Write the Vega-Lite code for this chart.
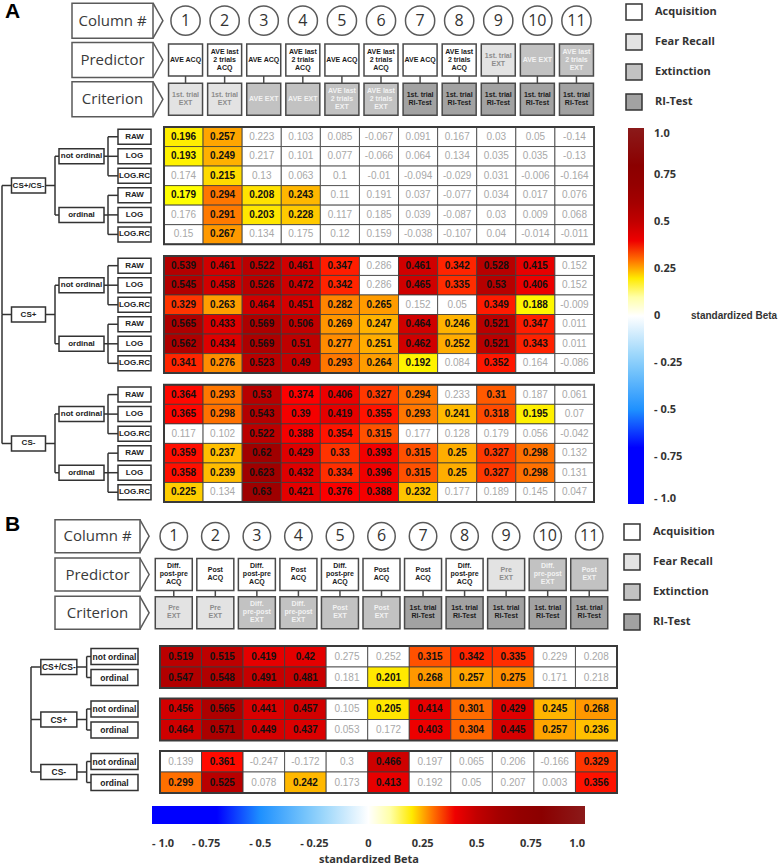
{
"$schema":"https://vega.github.io/schema/vega-lite/v6.json",
"padding":0,
"background":"white",
"config":{"view":{"stroke":null},"font":"Liberation Sans"},
"spacing":9,
"resolve":{"scale":{"color":"independent","fill":"independent"},"legend":{"color":"independent","fill":"independent"}},
"datasets":{
"heatA":[
{"grp":"CS+/CS-","ord":"not ordinal","tf":"RAW","col":1,"beta":0.196,"sig":1},
{"grp":"CS+/CS-","ord":"not ordinal","tf":"RAW","col":2,"beta":0.257,"sig":1},
{"grp":"CS+/CS-","ord":"not ordinal","tf":"RAW","col":3,"beta":0.223,"sig":0},
{"grp":"CS+/CS-","ord":"not ordinal","tf":"RAW","col":4,"beta":0.103,"sig":0},
{"grp":"CS+/CS-","ord":"not ordinal","tf":"RAW","col":5,"beta":0.085,"sig":0},
{"grp":"CS+/CS-","ord":"not ordinal","tf":"RAW","col":6,"beta":-0.067,"sig":0},
{"grp":"CS+/CS-","ord":"not ordinal","tf":"RAW","col":7,"beta":0.091,"sig":0},
{"grp":"CS+/CS-","ord":"not ordinal","tf":"RAW","col":8,"beta":0.167,"sig":0},
{"grp":"CS+/CS-","ord":"not ordinal","tf":"RAW","col":9,"beta":0.03,"sig":0},
{"grp":"CS+/CS-","ord":"not ordinal","tf":"RAW","col":10,"beta":0.05,"sig":0},
{"grp":"CS+/CS-","ord":"not ordinal","tf":"RAW","col":11,"beta":-0.14,"sig":0},
{"grp":"CS+/CS-","ord":"not ordinal","tf":"LOG","col":1,"beta":0.193,"sig":1},
{"grp":"CS+/CS-","ord":"not ordinal","tf":"LOG","col":2,"beta":0.249,"sig":1},
{"grp":"CS+/CS-","ord":"not ordinal","tf":"LOG","col":3,"beta":0.217,"sig":0},
{"grp":"CS+/CS-","ord":"not ordinal","tf":"LOG","col":4,"beta":0.101,"sig":0},
{"grp":"CS+/CS-","ord":"not ordinal","tf":"LOG","col":5,"beta":0.077,"sig":0},
{"grp":"CS+/CS-","ord":"not ordinal","tf":"LOG","col":6,"beta":-0.066,"sig":0},
{"grp":"CS+/CS-","ord":"not ordinal","tf":"LOG","col":7,"beta":0.064,"sig":0},
{"grp":"CS+/CS-","ord":"not ordinal","tf":"LOG","col":8,"beta":0.134,"sig":0},
{"grp":"CS+/CS-","ord":"not ordinal","tf":"LOG","col":9,"beta":0.035,"sig":0},
{"grp":"CS+/CS-","ord":"not ordinal","tf":"LOG","col":10,"beta":0.035,"sig":0},
{"grp":"CS+/CS-","ord":"not ordinal","tf":"LOG","col":11,"beta":-0.13,"sig":0},
{"grp":"CS+/CS-","ord":"not ordinal","tf":"LOG.RC","col":1,"beta":0.174,"sig":0},
{"grp":"CS+/CS-","ord":"not ordinal","tf":"LOG.RC","col":2,"beta":0.215,"sig":1},
{"grp":"CS+/CS-","ord":"not ordinal","tf":"LOG.RC","col":3,"beta":0.13,"sig":0},
{"grp":"CS+/CS-","ord":"not ordinal","tf":"LOG.RC","col":4,"beta":0.063,"sig":0},
{"grp":"CS+/CS-","ord":"not ordinal","tf":"LOG.RC","col":5,"beta":0.1,"sig":0},
{"grp":"CS+/CS-","ord":"not ordinal","tf":"LOG.RC","col":6,"beta":-0.01,"sig":0},
{"grp":"CS+/CS-","ord":"not ordinal","tf":"LOG.RC","col":7,"beta":-0.094,"sig":0},
{"grp":"CS+/CS-","ord":"not ordinal","tf":"LOG.RC","col":8,"beta":-0.029,"sig":0},
{"grp":"CS+/CS-","ord":"not ordinal","tf":"LOG.RC","col":9,"beta":0.031,"sig":0},
{"grp":"CS+/CS-","ord":"not ordinal","tf":"LOG.RC","col":10,"beta":-0.006,"sig":0},
{"grp":"CS+/CS-","ord":"not ordinal","tf":"LOG.RC","col":11,"beta":-0.164,"sig":0},
{"grp":"CS+/CS-","ord":"ordinal","tf":"RAW","col":1,"beta":0.179,"sig":1},
{"grp":"CS+/CS-","ord":"ordinal","tf":"RAW","col":2,"beta":0.294,"sig":1},
{"grp":"CS+/CS-","ord":"ordinal","tf":"RAW","col":3,"beta":0.208,"sig":1},
{"grp":"CS+/CS-","ord":"ordinal","tf":"RAW","col":4,"beta":0.243,"sig":1},
{"grp":"CS+/CS-","ord":"ordinal","tf":"RAW","col":5,"beta":0.11,"sig":0},
{"grp":"CS+/CS-","ord":"ordinal","tf":"RAW","col":6,"beta":0.191,"sig":0},
{"grp":"CS+/CS-","ord":"ordinal","tf":"RAW","col":7,"beta":0.037,"sig":0},
{"grp":"CS+/CS-","ord":"ordinal","tf":"RAW","col":8,"beta":-0.077,"sig":0},
{"grp":"CS+/CS-","ord":"ordinal","tf":"RAW","col":9,"beta":0.034,"sig":0},
{"grp":"CS+/CS-","ord":"ordinal","tf":"RAW","col":10,"beta":0.017,"sig":0},
{"grp":"CS+/CS-","ord":"ordinal","tf":"RAW","col":11,"beta":0.076,"sig":0},
{"grp":"CS+/CS-","ord":"ordinal","tf":"LOG","col":1,"beta":0.176,"sig":0},
{"grp":"CS+/CS-","ord":"ordinal","tf":"LOG","col":2,"beta":0.291,"sig":1},
{"grp":"CS+/CS-","ord":"ordinal","tf":"LOG","col":3,"beta":0.203,"sig":1},
{"grp":"CS+/CS-","ord":"ordinal","tf":"LOG","col":4,"beta":0.228,"sig":1},
{"grp":"CS+/CS-","ord":"ordinal","tf":"LOG","col":5,"beta":0.117,"sig":0},
{"grp":"CS+/CS-","ord":"ordinal","tf":"LOG","col":6,"beta":0.185,"sig":0},
{"grp":"CS+/CS-","ord":"ordinal","tf":"LOG","col":7,"beta":0.039,"sig":0},
{"grp":"CS+/CS-","ord":"ordinal","tf":"LOG","col":8,"beta":-0.087,"sig":0},
{"grp":"CS+/CS-","ord":"ordinal","tf":"LOG","col":9,"beta":0.03,"sig":0},
{"grp":"CS+/CS-","ord":"ordinal","tf":"LOG","col":10,"beta":0.009,"sig":0},
{"grp":"CS+/CS-","ord":"ordinal","tf":"LOG","col":11,"beta":0.068,"sig":0},
{"grp":"CS+/CS-","ord":"ordinal","tf":"LOG.RC","col":1,"beta":0.15,"sig":0},
{"grp":"CS+/CS-","ord":"ordinal","tf":"LOG.RC","col":2,"beta":0.267,"sig":1},
{"grp":"CS+/CS-","ord":"ordinal","tf":"LOG.RC","col":3,"beta":0.134,"sig":0},
{"grp":"CS+/CS-","ord":"ordinal","tf":"LOG.RC","col":4,"beta":0.175,"sig":0},
{"grp":"CS+/CS-","ord":"ordinal","tf":"LOG.RC","col":5,"beta":0.12,"sig":0},
{"grp":"CS+/CS-","ord":"ordinal","tf":"LOG.RC","col":6,"beta":0.159,"sig":0},
{"grp":"CS+/CS-","ord":"ordinal","tf":"LOG.RC","col":7,"beta":-0.038,"sig":0},
{"grp":"CS+/CS-","ord":"ordinal","tf":"LOG.RC","col":8,"beta":-0.107,"sig":0},
{"grp":"CS+/CS-","ord":"ordinal","tf":"LOG.RC","col":9,"beta":0.04,"sig":0},
{"grp":"CS+/CS-","ord":"ordinal","tf":"LOG.RC","col":10,"beta":-0.014,"sig":0},
{"grp":"CS+/CS-","ord":"ordinal","tf":"LOG.RC","col":11,"beta":-0.011,"sig":0},
{"grp":"CS+","ord":"not ordinal","tf":"RAW","col":1,"beta":0.539,"sig":1},
{"grp":"CS+","ord":"not ordinal","tf":"RAW","col":2,"beta":0.461,"sig":1},
{"grp":"CS+","ord":"not ordinal","tf":"RAW","col":3,"beta":0.522,"sig":1},
{"grp":"CS+","ord":"not ordinal","tf":"RAW","col":4,"beta":0.461,"sig":1},
{"grp":"CS+","ord":"not ordinal","tf":"RAW","col":5,"beta":0.347,"sig":1},
{"grp":"CS+","ord":"not ordinal","tf":"RAW","col":6,"beta":0.286,"sig":0},
{"grp":"CS+","ord":"not ordinal","tf":"RAW","col":7,"beta":0.461,"sig":1},
{"grp":"CS+","ord":"not ordinal","tf":"RAW","col":8,"beta":0.342,"sig":1},
{"grp":"CS+","ord":"not ordinal","tf":"RAW","col":9,"beta":0.528,"sig":1},
{"grp":"CS+","ord":"not ordinal","tf":"RAW","col":10,"beta":0.415,"sig":1},
{"grp":"CS+","ord":"not ordinal","tf":"RAW","col":11,"beta":0.152,"sig":0},
{"grp":"CS+","ord":"not ordinal","tf":"LOG","col":1,"beta":0.545,"sig":1},
{"grp":"CS+","ord":"not ordinal","tf":"LOG","col":2,"beta":0.458,"sig":1},
{"grp":"CS+","ord":"not ordinal","tf":"LOG","col":3,"beta":0.526,"sig":1},
{"grp":"CS+","ord":"not ordinal","tf":"LOG","col":4,"beta":0.472,"sig":1},
{"grp":"CS+","ord":"not ordinal","tf":"LOG","col":5,"beta":0.342,"sig":1},
{"grp":"CS+","ord":"not ordinal","tf":"LOG","col":6,"beta":0.286,"sig":0},
{"grp":"CS+","ord":"not ordinal","tf":"LOG","col":7,"beta":0.465,"sig":1},
{"grp":"CS+","ord":"not ordinal","tf":"LOG","col":8,"beta":0.335,"sig":1},
{"grp":"CS+","ord":"not ordinal","tf":"LOG","col":9,"beta":0.53,"sig":1},
{"grp":"CS+","ord":"not ordinal","tf":"LOG","col":10,"beta":0.406,"sig":1},
{"grp":"CS+","ord":"not ordinal","tf":"LOG","col":11,"beta":0.152,"sig":0},
{"grp":"CS+","ord":"not ordinal","tf":"LOG.RC","col":1,"beta":0.329,"sig":1},
{"grp":"CS+","ord":"not ordinal","tf":"LOG.RC","col":2,"beta":0.263,"sig":1},
{"grp":"CS+","ord":"not ordinal","tf":"LOG.RC","col":3,"beta":0.464,"sig":1},
{"grp":"CS+","ord":"not ordinal","tf":"LOG.RC","col":4,"beta":0.451,"sig":1},
{"grp":"CS+","ord":"not ordinal","tf":"LOG.RC","col":5,"beta":0.282,"sig":1},
{"grp":"CS+","ord":"not ordinal","tf":"LOG.RC","col":6,"beta":0.265,"sig":1},
{"grp":"CS+","ord":"not ordinal","tf":"LOG.RC","col":7,"beta":0.152,"sig":0},
{"grp":"CS+","ord":"not ordinal","tf":"LOG.RC","col":8,"beta":0.05,"sig":0},
{"grp":"CS+","ord":"not ordinal","tf":"LOG.RC","col":9,"beta":0.349,"sig":1},
{"grp":"CS+","ord":"not ordinal","tf":"LOG.RC","col":10,"beta":0.188,"sig":1},
{"grp":"CS+","ord":"not ordinal","tf":"LOG.RC","col":11,"beta":-0.009,"sig":0},
{"grp":"CS+","ord":"ordinal","tf":"RAW","col":1,"beta":0.565,"sig":1},
{"grp":"CS+","ord":"ordinal","tf":"RAW","col":2,"beta":0.433,"sig":1},
{"grp":"CS+","ord":"ordinal","tf":"RAW","col":3,"beta":0.569,"sig":1},
{"grp":"CS+","ord":"ordinal","tf":"RAW","col":4,"beta":0.506,"sig":1},
{"grp":"CS+","ord":"ordinal","tf":"RAW","col":5,"beta":0.269,"sig":1},
{"grp":"CS+","ord":"ordinal","tf":"RAW","col":6,"beta":0.247,"sig":1},
{"grp":"CS+","ord":"ordinal","tf":"RAW","col":7,"beta":0.464,"sig":1},
{"grp":"CS+","ord":"ordinal","tf":"RAW","col":8,"beta":0.246,"sig":1},
{"grp":"CS+","ord":"ordinal","tf":"RAW","col":9,"beta":0.521,"sig":1},
{"grp":"CS+","ord":"ordinal","tf":"RAW","col":10,"beta":0.347,"sig":1},
{"grp":"CS+","ord":"ordinal","tf":"RAW","col":11,"beta":0.011,"sig":0},
{"grp":"CS+","ord":"ordinal","tf":"LOG","col":1,"beta":0.562,"sig":1},
{"grp":"CS+","ord":"ordinal","tf":"LOG","col":2,"beta":0.434,"sig":1},
{"grp":"CS+","ord":"ordinal","tf":"LOG","col":3,"beta":0.569,"sig":1},
{"grp":"CS+","ord":"ordinal","tf":"LOG","col":4,"beta":0.51,"sig":1},
{"grp":"CS+","ord":"ordinal","tf":"LOG","col":5,"beta":0.277,"sig":1},
{"grp":"CS+","ord":"ordinal","tf":"LOG","col":6,"beta":0.251,"sig":1},
{"grp":"CS+","ord":"ordinal","tf":"LOG","col":7,"beta":0.462,"sig":1},
{"grp":"CS+","ord":"ordinal","tf":"LOG","col":8,"beta":0.252,"sig":1},
{"grp":"CS+","ord":"ordinal","tf":"LOG","col":9,"beta":0.521,"sig":1},
{"grp":"CS+","ord":"ordinal","tf":"LOG","col":10,"beta":0.343,"sig":1},
{"grp":"CS+","ord":"ordinal","tf":"LOG","col":11,"beta":0.011,"sig":0},
{"grp":"CS+","ord":"ordinal","tf":"LOG.RC","col":1,"beta":0.341,"sig":1},
{"grp":"CS+","ord":"ordinal","tf":"LOG.RC","col":2,"beta":0.276,"sig":1},
{"grp":"CS+","ord":"ordinal","tf":"LOG.RC","col":3,"beta":0.523,"sig":1},
{"grp":"CS+","ord":"ordinal","tf":"LOG.RC","col":4,"beta":0.49,"sig":1},
{"grp":"CS+","ord":"ordinal","tf":"LOG.RC","col":5,"beta":0.293,"sig":1},
{"grp":"CS+","ord":"ordinal","tf":"LOG.RC","col":6,"beta":0.264,"sig":1},
{"grp":"CS+","ord":"ordinal","tf":"LOG.RC","col":7,"beta":0.192,"sig":1},
{"grp":"CS+","ord":"ordinal","tf":"LOG.RC","col":8,"beta":0.084,"sig":0},
{"grp":"CS+","ord":"ordinal","tf":"LOG.RC","col":9,"beta":0.352,"sig":1},
{"grp":"CS+","ord":"ordinal","tf":"LOG.RC","col":10,"beta":0.164,"sig":0},
{"grp":"CS+","ord":"ordinal","tf":"LOG.RC","col":11,"beta":-0.086,"sig":0},
{"grp":"CS-","ord":"not ordinal","tf":"RAW","col":1,"beta":0.364,"sig":1},
{"grp":"CS-","ord":"not ordinal","tf":"RAW","col":2,"beta":0.293,"sig":1},
{"grp":"CS-","ord":"not ordinal","tf":"RAW","col":3,"beta":0.53,"sig":1},
{"grp":"CS-","ord":"not ordinal","tf":"RAW","col":4,"beta":0.374,"sig":1},
{"grp":"CS-","ord":"not ordinal","tf":"RAW","col":5,"beta":0.406,"sig":1},
{"grp":"CS-","ord":"not ordinal","tf":"RAW","col":6,"beta":0.327,"sig":1},
{"grp":"CS-","ord":"not ordinal","tf":"RAW","col":7,"beta":0.294,"sig":1},
{"grp":"CS-","ord":"not ordinal","tf":"RAW","col":8,"beta":0.233,"sig":0},
{"grp":"CS-","ord":"not ordinal","tf":"RAW","col":9,"beta":0.31,"sig":1},
{"grp":"CS-","ord":"not ordinal","tf":"RAW","col":10,"beta":0.187,"sig":0},
{"grp":"CS-","ord":"not ordinal","tf":"RAW","col":11,"beta":0.061,"sig":0},
{"grp":"CS-","ord":"not ordinal","tf":"LOG","col":1,"beta":0.365,"sig":1},
{"grp":"CS-","ord":"not ordinal","tf":"LOG","col":2,"beta":0.298,"sig":1},
{"grp":"CS-","ord":"not ordinal","tf":"LOG","col":3,"beta":0.543,"sig":1},
{"grp":"CS-","ord":"not ordinal","tf":"LOG","col":4,"beta":0.39,"sig":1},
{"grp":"CS-","ord":"not ordinal","tf":"LOG","col":5,"beta":0.419,"sig":1},
{"grp":"CS-","ord":"not ordinal","tf":"LOG","col":6,"beta":0.355,"sig":1},
{"grp":"CS-","ord":"not ordinal","tf":"LOG","col":7,"beta":0.293,"sig":1},
{"grp":"CS-","ord":"not ordinal","tf":"LOG","col":8,"beta":0.241,"sig":1},
{"grp":"CS-","ord":"not ordinal","tf":"LOG","col":9,"beta":0.318,"sig":1},
{"grp":"CS-","ord":"not ordinal","tf":"LOG","col":10,"beta":0.195,"sig":1},
{"grp":"CS-","ord":"not ordinal","tf":"LOG","col":11,"beta":0.07,"sig":0},
{"grp":"CS-","ord":"not ordinal","tf":"LOG.RC","col":1,"beta":0.117,"sig":0},
{"grp":"CS-","ord":"not ordinal","tf":"LOG.RC","col":2,"beta":0.102,"sig":0},
{"grp":"CS-","ord":"not ordinal","tf":"LOG.RC","col":3,"beta":0.522,"sig":1},
{"grp":"CS-","ord":"not ordinal","tf":"LOG.RC","col":4,"beta":0.388,"sig":1},
{"grp":"CS-","ord":"not ordinal","tf":"LOG.RC","col":5,"beta":0.354,"sig":1},
{"grp":"CS-","ord":"not ordinal","tf":"LOG.RC","col":6,"beta":0.315,"sig":1},
{"grp":"CS-","ord":"not ordinal","tf":"LOG.RC","col":7,"beta":0.177,"sig":0},
{"grp":"CS-","ord":"not ordinal","tf":"LOG.RC","col":8,"beta":0.128,"sig":0},
{"grp":"CS-","ord":"not ordinal","tf":"LOG.RC","col":9,"beta":0.179,"sig":0},
{"grp":"CS-","ord":"not ordinal","tf":"LOG.RC","col":10,"beta":0.056,"sig":0},
{"grp":"CS-","ord":"not ordinal","tf":"LOG.RC","col":11,"beta":-0.042,"sig":0},
{"grp":"CS-","ord":"ordinal","tf":"RAW","col":1,"beta":0.359,"sig":1},
{"grp":"CS-","ord":"ordinal","tf":"RAW","col":2,"beta":0.237,"sig":1},
{"grp":"CS-","ord":"ordinal","tf":"RAW","col":3,"beta":0.62,"sig":1},
{"grp":"CS-","ord":"ordinal","tf":"RAW","col":4,"beta":0.429,"sig":1},
{"grp":"CS-","ord":"ordinal","tf":"RAW","col":5,"beta":0.33,"sig":1},
{"grp":"CS-","ord":"ordinal","tf":"RAW","col":6,"beta":0.393,"sig":1},
{"grp":"CS-","ord":"ordinal","tf":"RAW","col":7,"beta":0.315,"sig":1},
{"grp":"CS-","ord":"ordinal","tf":"RAW","col":8,"beta":0.25,"sig":1},
{"grp":"CS-","ord":"ordinal","tf":"RAW","col":9,"beta":0.327,"sig":1},
{"grp":"CS-","ord":"ordinal","tf":"RAW","col":10,"beta":0.298,"sig":1},
{"grp":"CS-","ord":"ordinal","tf":"RAW","col":11,"beta":0.132,"sig":0},
{"grp":"CS-","ord":"ordinal","tf":"LOG","col":1,"beta":0.358,"sig":1},
{"grp":"CS-","ord":"ordinal","tf":"LOG","col":2,"beta":0.239,"sig":1},
{"grp":"CS-","ord":"ordinal","tf":"LOG","col":3,"beta":0.623,"sig":1},
{"grp":"CS-","ord":"ordinal","tf":"LOG","col":4,"beta":0.432,"sig":1},
{"grp":"CS-","ord":"ordinal","tf":"LOG","col":5,"beta":0.334,"sig":1},
{"grp":"CS-","ord":"ordinal","tf":"LOG","col":6,"beta":0.396,"sig":1},
{"grp":"CS-","ord":"ordinal","tf":"LOG","col":7,"beta":0.315,"sig":1},
{"grp":"CS-","ord":"ordinal","tf":"LOG","col":8,"beta":0.25,"sig":1},
{"grp":"CS-","ord":"ordinal","tf":"LOG","col":9,"beta":0.327,"sig":1},
{"grp":"CS-","ord":"ordinal","tf":"LOG","col":10,"beta":0.298,"sig":1},
{"grp":"CS-","ord":"ordinal","tf":"LOG","col":11,"beta":0.131,"sig":0},
{"grp":"CS-","ord":"ordinal","tf":"LOG.RC","col":1,"beta":0.225,"sig":1},
{"grp":"CS-","ord":"ordinal","tf":"LOG.RC","col":2,"beta":0.134,"sig":0},
{"grp":"CS-","ord":"ordinal","tf":"LOG.RC","col":3,"beta":0.63,"sig":1},
{"grp":"CS-","ord":"ordinal","tf":"LOG.RC","col":4,"beta":0.421,"sig":1},
{"grp":"CS-","ord":"ordinal","tf":"LOG.RC","col":5,"beta":0.376,"sig":1},
{"grp":"CS-","ord":"ordinal","tf":"LOG.RC","col":6,"beta":0.388,"sig":1},
{"grp":"CS-","ord":"ordinal","tf":"LOG.RC","col":7,"beta":0.232,"sig":1},
{"grp":"CS-","ord":"ordinal","tf":"LOG.RC","col":8,"beta":0.177,"sig":0},
{"grp":"CS-","ord":"ordinal","tf":"LOG.RC","col":9,"beta":0.189,"sig":0},
{"grp":"CS-","ord":"ordinal","tf":"LOG.RC","col":10,"beta":0.145,"sig":0},
{"grp":"CS-","ord":"ordinal","tf":"LOG.RC","col":11,"beta":0.047,"sig":0}
],
"heatB":[
{"grp":"CS+/CS-","ord":"not ordinal","col":1,"beta":0.519,"sig":1},
{"grp":"CS+/CS-","ord":"not ordinal","col":2,"beta":0.515,"sig":1},
{"grp":"CS+/CS-","ord":"not ordinal","col":3,"beta":0.419,"sig":1},
{"grp":"CS+/CS-","ord":"not ordinal","col":4,"beta":0.42,"sig":1},
{"grp":"CS+/CS-","ord":"not ordinal","col":5,"beta":0.275,"sig":0},
{"grp":"CS+/CS-","ord":"not ordinal","col":6,"beta":0.252,"sig":0},
{"grp":"CS+/CS-","ord":"not ordinal","col":7,"beta":0.315,"sig":1},
{"grp":"CS+/CS-","ord":"not ordinal","col":8,"beta":0.342,"sig":1},
{"grp":"CS+/CS-","ord":"not ordinal","col":9,"beta":0.335,"sig":1},
{"grp":"CS+/CS-","ord":"not ordinal","col":10,"beta":0.229,"sig":0},
{"grp":"CS+/CS-","ord":"not ordinal","col":11,"beta":0.208,"sig":0},
{"grp":"CS+/CS-","ord":"ordinal","col":1,"beta":0.547,"sig":1},
{"grp":"CS+/CS-","ord":"ordinal","col":2,"beta":0.548,"sig":1},
{"grp":"CS+/CS-","ord":"ordinal","col":3,"beta":0.491,"sig":1},
{"grp":"CS+/CS-","ord":"ordinal","col":4,"beta":0.481,"sig":1},
{"grp":"CS+/CS-","ord":"ordinal","col":5,"beta":0.181,"sig":0},
{"grp":"CS+/CS-","ord":"ordinal","col":6,"beta":0.201,"sig":1},
{"grp":"CS+/CS-","ord":"ordinal","col":7,"beta":0.268,"sig":1},
{"grp":"CS+/CS-","ord":"ordinal","col":8,"beta":0.257,"sig":1},
{"grp":"CS+/CS-","ord":"ordinal","col":9,"beta":0.275,"sig":1},
{"grp":"CS+/CS-","ord":"ordinal","col":10,"beta":0.171,"sig":0},
{"grp":"CS+/CS-","ord":"ordinal","col":11,"beta":0.218,"sig":0},
{"grp":"CS+","ord":"not ordinal","col":1,"beta":0.456,"sig":1},
{"grp":"CS+","ord":"not ordinal","col":2,"beta":0.565,"sig":1},
{"grp":"CS+","ord":"not ordinal","col":3,"beta":0.441,"sig":1},
{"grp":"CS+","ord":"not ordinal","col":4,"beta":0.457,"sig":1},
{"grp":"CS+","ord":"not ordinal","col":5,"beta":0.105,"sig":0},
{"grp":"CS+","ord":"not ordinal","col":6,"beta":0.205,"sig":1},
{"grp":"CS+","ord":"not ordinal","col":7,"beta":0.414,"sig":1},
{"grp":"CS+","ord":"not ordinal","col":8,"beta":0.301,"sig":1},
{"grp":"CS+","ord":"not ordinal","col":9,"beta":0.429,"sig":1},
{"grp":"CS+","ord":"not ordinal","col":10,"beta":0.245,"sig":1},
{"grp":"CS+","ord":"not ordinal","col":11,"beta":0.268,"sig":1},
{"grp":"CS+","ord":"ordinal","col":1,"beta":0.464,"sig":1},
{"grp":"CS+","ord":"ordinal","col":2,"beta":0.571,"sig":1},
{"grp":"CS+","ord":"ordinal","col":3,"beta":0.449,"sig":1},
{"grp":"CS+","ord":"ordinal","col":4,"beta":0.437,"sig":1},
{"grp":"CS+","ord":"ordinal","col":5,"beta":0.053,"sig":0},
{"grp":"CS+","ord":"ordinal","col":6,"beta":0.172,"sig":0},
{"grp":"CS+","ord":"ordinal","col":7,"beta":0.403,"sig":1},
{"grp":"CS+","ord":"ordinal","col":8,"beta":0.304,"sig":1},
{"grp":"CS+","ord":"ordinal","col":9,"beta":0.445,"sig":1},
{"grp":"CS+","ord":"ordinal","col":10,"beta":0.257,"sig":1},
{"grp":"CS+","ord":"ordinal","col":11,"beta":0.236,"sig":1},
{"grp":"CS-","ord":"not ordinal","col":1,"beta":0.139,"sig":0},
{"grp":"CS-","ord":"not ordinal","col":2,"beta":0.361,"sig":1},
{"grp":"CS-","ord":"not ordinal","col":3,"beta":-0.247,"sig":0},
{"grp":"CS-","ord":"not ordinal","col":4,"beta":-0.172,"sig":0},
{"grp":"CS-","ord":"not ordinal","col":5,"beta":0.3,"sig":0},
{"grp":"CS-","ord":"not ordinal","col":6,"beta":0.466,"sig":1},
{"grp":"CS-","ord":"not ordinal","col":7,"beta":0.197,"sig":0},
{"grp":"CS-","ord":"not ordinal","col":8,"beta":0.065,"sig":0},
{"grp":"CS-","ord":"not ordinal","col":9,"beta":0.206,"sig":0},
{"grp":"CS-","ord":"not ordinal","col":10,"beta":-0.166,"sig":0},
{"grp":"CS-","ord":"not ordinal","col":11,"beta":0.329,"sig":1},
{"grp":"CS-","ord":"ordinal","col":1,"beta":0.299,"sig":1},
{"grp":"CS-","ord":"ordinal","col":2,"beta":0.525,"sig":1},
{"grp":"CS-","ord":"ordinal","col":3,"beta":0.078,"sig":0},
{"grp":"CS-","ord":"ordinal","col":4,"beta":0.242,"sig":1},
{"grp":"CS-","ord":"ordinal","col":5,"beta":0.173,"sig":0},
{"grp":"CS-","ord":"ordinal","col":6,"beta":0.413,"sig":1},
{"grp":"CS-","ord":"ordinal","col":7,"beta":0.192,"sig":0},
{"grp":"CS-","ord":"ordinal","col":8,"beta":0.05,"sig":0},
{"grp":"CS-","ord":"ordinal","col":9,"beta":0.207,"sig":0},
{"grp":"CS-","ord":"ordinal","col":10,"beta":0.003,"sig":0},
{"grp":"CS-","ord":"ordinal","col":11,"beta":0.356,"sig":1}
],
"headA":[
{"col":1,"row":"Predictor","label":"AVE ACQ","phase":"Acquisition"},
{"col":2,"row":"Predictor","label":"AVE last\n2 trials\nACQ","phase":"Acquisition"},
{"col":3,"row":"Predictor","label":"AVE ACQ","phase":"Acquisition"},
{"col":4,"row":"Predictor","label":"AVE last\n2 trials\nACQ","phase":"Acquisition"},
{"col":5,"row":"Predictor","label":"AVE ACQ","phase":"Acquisition"},
{"col":6,"row":"Predictor","label":"AVE last\n2 trials\nACQ","phase":"Acquisition"},
{"col":7,"row":"Predictor","label":"AVE ACQ","phase":"Acquisition"},
{"col":8,"row":"Predictor","label":"AVE last\n2 trials\nACQ","phase":"Acquisition"},
{"col":9,"row":"Predictor","label":"1st. trial\nEXT","phase":"Fear Recall"},
{"col":10,"row":"Predictor","label":"AVE EXT","phase":"Extinction"},
{"col":11,"row":"Predictor","label":"AVE last\n2 trials\nEXT","phase":"Extinction"},
{"col":1,"row":"Criterion","label":"1st. trial\nEXT","phase":"Fear Recall"},
{"col":2,"row":"Criterion","label":"1st. trial\nEXT","phase":"Fear Recall"},
{"col":3,"row":"Criterion","label":"AVE EXT","phase":"Extinction"},
{"col":4,"row":"Criterion","label":"AVE EXT","phase":"Extinction"},
{"col":5,"row":"Criterion","label":"AVE last\n2 trials\nEXT","phase":"Extinction"},
{"col":6,"row":"Criterion","label":"AVE last\n2 trials\nEXT","phase":"Extinction"},
{"col":7,"row":"Criterion","label":"1st. trial\nRI-Test","phase":"RI-Test"},
{"col":8,"row":"Criterion","label":"1st. trial\nRI-Test","phase":"RI-Test"},
{"col":9,"row":"Criterion","label":"1st. trial\nRI-Test","phase":"RI-Test"},
{"col":10,"row":"Criterion","label":"1st. trial\nRI-Test","phase":"RI-Test"},
{"col":11,"row":"Criterion","label":"1st. trial\nRI-Test","phase":"RI-Test"}
],
"headB":[
{"col":1,"row":"Predictor","label":"Diff.\npost-pre\nACQ","phase":"Acquisition"},
{"col":2,"row":"Predictor","label":"Post\nACQ","phase":"Acquisition"},
{"col":3,"row":"Predictor","label":"Diff.\npost-pre\nACQ","phase":"Acquisition"},
{"col":4,"row":"Predictor","label":"Post\nACQ","phase":"Acquisition"},
{"col":5,"row":"Predictor","label":"Diff.\npost-pre\nACQ","phase":"Acquisition"},
{"col":6,"row":"Predictor","label":"Post\nACQ","phase":"Acquisition"},
{"col":7,"row":"Predictor","label":"Post\nACQ","phase":"Acquisition"},
{"col":8,"row":"Predictor","label":"Diff.\npost-pre\nACQ","phase":"Acquisition"},
{"col":9,"row":"Predictor","label":"Pre\nEXT","phase":"Fear Recall"},
{"col":10,"row":"Predictor","label":"Diff.\npre-post\nEXT","phase":"Extinction"},
{"col":11,"row":"Predictor","label":"Post\nEXT","phase":"Extinction"},
{"col":1,"row":"Criterion","label":"Pre\nEXT","phase":"Fear Recall"},
{"col":2,"row":"Criterion","label":"Pre\nEXT","phase":"Fear Recall"},
{"col":3,"row":"Criterion","label":"Diff.\npre-post\nEXT","phase":"Extinction"},
{"col":4,"row":"Criterion","label":"Diff.\npre-post\nEXT","phase":"Extinction"},
{"col":5,"row":"Criterion","label":"Post\nEXT","phase":"Extinction"},
{"col":6,"row":"Criterion","label":"Post\nEXT","phase":"Extinction"},
{"col":7,"row":"Criterion","label":"1st. trial\nRI-Test","phase":"RI-Test"},
{"col":8,"row":"Criterion","label":"1st. trial\nRI-Test","phase":"RI-Test"},
{"col":9,"row":"Criterion","label":"1st. trial\nRI-Test","phase":"RI-Test"},
{"col":10,"row":"Criterion","label":"1st. trial\nRI-Test","phase":"RI-Test"},
{"col":11,"row":"Criterion","label":"1st. trial\nRI-Test","phase":"RI-Test"}
],
"treeA":[
{"level":"grp","grp":"CS+/CS-"},{"level":"grp","grp":"CS+"},{"level":"grp","grp":"CS-"},
{"level":"sub","grp":"CS+/CS-","ord":"not ordinal"},{"level":"sub","grp":"CS+/CS-","ord":"ordinal"},
{"level":"sub","grp":"CS+","ord":"not ordinal"},{"level":"sub","grp":"CS+","ord":"ordinal"},
{"level":"sub","grp":"CS-","ord":"not ordinal"},{"level":"sub","grp":"CS-","ord":"ordinal"},
{"level":"leaf","grp":"CS+/CS-","ord":"not ordinal","tf":"RAW"},{"level":"leaf","grp":"CS+/CS-","ord":"not ordinal","tf":"LOG"},{"level":"leaf","grp":"CS+/CS-","ord":"not ordinal","tf":"LOG.RC"},
{"level":"leaf","grp":"CS+/CS-","ord":"ordinal","tf":"RAW"},{"level":"leaf","grp":"CS+/CS-","ord":"ordinal","tf":"LOG"},{"level":"leaf","grp":"CS+/CS-","ord":"ordinal","tf":"LOG.RC"},
{"level":"leaf","grp":"CS+","ord":"not ordinal","tf":"RAW"},{"level":"leaf","grp":"CS+","ord":"not ordinal","tf":"LOG"},{"level":"leaf","grp":"CS+","ord":"not ordinal","tf":"LOG.RC"},
{"level":"leaf","grp":"CS+","ord":"ordinal","tf":"RAW"},{"level":"leaf","grp":"CS+","ord":"ordinal","tf":"LOG"},{"level":"leaf","grp":"CS+","ord":"ordinal","tf":"LOG.RC"},
{"level":"leaf","grp":"CS-","ord":"not ordinal","tf":"RAW"},{"level":"leaf","grp":"CS-","ord":"not ordinal","tf":"LOG"},{"level":"leaf","grp":"CS-","ord":"not ordinal","tf":"LOG.RC"},
{"level":"leaf","grp":"CS-","ord":"ordinal","tf":"RAW"},{"level":"leaf","grp":"CS-","ord":"ordinal","tf":"LOG"},{"level":"leaf","grp":"CS-","ord":"ordinal","tf":"LOG.RC"}
],
"treeB":[
{"level":"grp","grp":"CS+/CS-"},{"level":"grp","grp":"CS+"},{"level":"grp","grp":"CS-"},
{"level":"sub","grp":"CS+/CS-","ord":"not ordinal"},{"level":"sub","grp":"CS+/CS-","ord":"ordinal"},
{"level":"sub","grp":"CS+","ord":"not ordinal"},{"level":"sub","grp":"CS+","ord":"ordinal"},
{"level":"sub","grp":"CS-","ord":"not ordinal"},{"level":"sub","grp":"CS-","ord":"ordinal"}
],
"rowsHead":[{"row":"Column #"},{"row":"Predictor"},{"row":"Criterion"}]
},
"vconcat":[
{
"spacing":6,
"resolve":{"scale":{"color":"independent","fill":"independent"},"legend":{"color":"independent","fill":"independent"}},
"vconcat":[
{"hconcat":[
{"width":163,"height":118,"data":{"name":"rowsHead"},
"resolve":{"scale":{"x":"independent"}},
"layer":[
{"data":{"values":[{"panel":"A"}]},
"mark":{"type":"text","fontSize":21,"fontWeight":"bold","font":"Liberation Sans","color":"#000000","align":"left","baseline":"middle"},
"encoding":{"x":{"datum":"A","type":"nominal","scale":{"type":"point","domain":["A"],"range":[5,5],"padding":0},"axis":null},
"y":{"datum":"Column #","type":"nominal","bandPosition":0.29,"scale":{"type":"band","domain":["Column #","Predictor","Criterion"],"paddingInner":0,"paddingOuter":0},"axis":null},
"text":{"field":"panel"}}},
{"mark":{"type":"point","shape":"M-0.28,-1L0.28,0L-0.28,1","size":1225,"filled":true,"fill":"white","stroke":"#5a5a5a","strokeWidth":1.5,"opacity":1},
"encoding":{"x":{"datum":"tip","type":"nominal","scale":{"type":"point","domain":["box","tip"],"range":[112.5,158],"padding":0},"axis":null},
"y":{"field":"row","type":"nominal","scale":{"type":"band","domain":["Column #","Predictor","Criterion"],"paddingInner":0,"paddingOuter":0},"axis":null}}},
{"mark":{"type":"rect","width":81,"height":35,"fill":"white","stroke":"#5a5a5a","strokeWidth":1.5},
"encoding":{"x":{"datum":"box","type":"nominal","scale":{"type":"point","domain":["box","tip"],"range":[112.5,158],"padding":0},"axis":null},
"y":{"field":"row","type":"nominal","scale":{"type":"band","domain":["Column #","Predictor","Criterion"],"paddingInner":0,"paddingOuter":0},"axis":null}}},
{"mark":{"type":"text","fontSize":15,"font":"Open Sans","color":"#3a3a3a"},
"encoding":{"x":{"datum":"box","type":"nominal","scale":{"type":"point","domain":["box","tip"],"range":[112.5,158],"padding":0},"axis":null},
"y":{"field":"row","type":"nominal","scale":{"type":"band","domain":["Column #","Predictor","Criterion"],"paddingInner":0,"paddingOuter":0},"axis":null},
"text":{"field":"row"}}}
]},
{"width":430,"height":118,"data":{"name":"headA"},
"layer":[
{"transform":[{"filter":"datum.row=='Predictor'"}],
"mark":{"type":"rule","stroke":"#4a4a4a","strokeWidth":1.5},
"encoding":{"x":{"field":"col","type":"ordinal","scale":{"type":"band","domain":[1,2,3,4,5,6,7,8,9,10,11],"paddingInner":0,"paddingOuter":0},"axis":null},
"y":{"datum":"Predictor","type":"nominal","scale":{"type":"band","domain":["Column #","Predictor","Criterion"],"paddingInner":0,"paddingOuter":0},"axis":null},
"y2":{"datum":"Criterion"}}},
{"transform":[{"filter":"datum.row=='Predictor'"}],
"mark":{"type":"point","shape":"circle","size":855,"filled":true,"fill":"white","stroke":"#5a5a5a","strokeWidth":1.5,"opacity":1},
"encoding":{"x":{"field":"col","type":"ordinal","scale":{"type":"band","domain":[1,2,3,4,5,6,7,8,9,10,11],"paddingInner":0,"paddingOuter":0},"axis":null},
"y":{"datum":"Column #","type":"nominal","scale":{"type":"band","domain":["Column #","Predictor","Criterion"],"paddingInner":0,"paddingOuter":0},"axis":null}}},
{"transform":[{"filter":"datum.row=='Predictor'"}],
"mark":{"type":"text","fontSize":16,"font":"Open Sans","color":"#333333"},
"encoding":{"x":{"field":"col","type":"ordinal","scale":{"type":"band","domain":[1,2,3,4,5,6,7,8,9,10,11],"paddingInner":0,"paddingOuter":0},"axis":null},
"y":{"datum":"Column #","type":"nominal","scale":{"type":"band","domain":["Column #","Predictor","Criterion"],"paddingInner":0,"paddingOuter":0},"axis":null},
"text":{"field":"col"}}},
{"mark":{"type":"rect","width":34,"height":32,"stroke":"#4a4a4a","strokeWidth":1.5},
"encoding":{"x":{"field":"col","type":"ordinal","scale":{"type":"band","domain":[1,2,3,4,5,6,7,8,9,10,11],"paddingInner":0,"paddingOuter":0},"axis":null},
"y":{"field":"row","type":"nominal","scale":{"type":"band","domain":["Column #","Predictor","Criterion"],"paddingInner":0,"paddingOuter":0},"axis":null},
"fill":{"field":"phase","type":"nominal","scale":{"domain":["Acquisition","Fear Recall","Extinction","RI-Test"],"range":["#ffffff","#e3e3e3","#c2c2c2","#a2a2a2"]},
"legend":{"orient":"none","legendX":459,"legendY":2,"title":null,"direction":"vertical","symbolType":"square","symbolSize":256,"symbolStrokeColor":"#333333","symbolStrokeWidth":1.5,"symbolOpacity":1,"rowPadding":8,"labelOffset":12,"labelFont":"Open Sans","labelFontSize":11,"labelFontWeight":"bold","labelColor":"#333333"}}}},
{"transform":[{"filter":"length(split(datum.label,'\\n'))==3"}],
"mark":{"type":"text","fontSize":7,"fontWeight":"bold","font":"Liberation Sans Narrow, Liberation Sans","lineBreak":"\n","lineHeight":8,"dy":-8.5},
"encoding":{"x":{"field":"col","type":"ordinal","scale":{"type":"band","domain":[1,2,3,4,5,6,7,8,9,10,11],"paddingInner":0,"paddingOuter":0},"axis":null},
"y":{"field":"row","type":"nominal","scale":{"type":"band","domain":["Column #","Predictor","Criterion"],"paddingInner":0,"paddingOuter":0},"axis":null},
"text":{"field":"label"},
"color":{"field":"phase","type":"nominal","scale":{"domain":["Acquisition","Fear Recall","Extinction","RI-Test"],"range":["#1c1c1c","#8c8c8c","#f2f2f2","#1c1c1c"]},"legend":null}}},
{"transform":[{"filter":"length(split(datum.label,'\\n'))==2"}],
"mark":{"type":"text","fontSize":7,"fontWeight":"bold","font":"Liberation Sans Narrow, Liberation Sans","lineBreak":"\n","lineHeight":8,"dy":-4.5},
"encoding":{"x":{"field":"col","type":"ordinal","scale":{"type":"band","domain":[1,2,3,4,5,6,7,8,9,10,11],"paddingInner":0,"paddingOuter":0},"axis":null},
"y":{"field":"row","type":"nominal","scale":{"type":"band","domain":["Column #","Predictor","Criterion"],"paddingInner":0,"paddingOuter":0},"axis":null},
"text":{"field":"label"},
"color":{"field":"phase","type":"nominal","scale":{"domain":["Acquisition","Fear Recall","Extinction","RI-Test"],"range":["#1c1c1c","#8c8c8c","#f2f2f2","#1c1c1c"]},"legend":null}}},
{"transform":[{"filter":"length(split(datum.label,'\\n'))==1"}],
"mark":{"type":"text","fontSize":7,"fontWeight":"bold","font":"Liberation Sans Narrow, Liberation Sans","dy":-0.5},
"encoding":{"x":{"field":"col","type":"ordinal","scale":{"type":"band","domain":[1,2,3,4,5,6,7,8,9,10,11],"paddingInner":0,"paddingOuter":0},"axis":null},
"y":{"field":"row","type":"nominal","scale":{"type":"band","domain":["Column #","Predictor","Criterion"],"paddingInner":0,"paddingOuter":0},"axis":null},
"text":{"field":"label"},
"color":{"field":"phase","type":"nominal","scale":{"domain":["Acquisition","Fear Recall","Extinction","RI-Test"],"range":["#1c1c1c","#8c8c8c","#f2f2f2","#1c1c1c"]},"legend":null}}}
]}
],"spacing":0,"resolve":{"scale":{"color":"independent","fill":"independent"},"legend":{"color":"independent","fill":"independent"}}},
{"hconcat":[
{"width":163,"height":375,"data":{"name":"treeA"},
"transform":[
{"calculate":"indexof(['CS+/CS-','CS+','CS-'], datum.grp)*6.6","as":"gy"},
{"calculate":"datum.ord=='ordinal' ? 3 : 0","as":"oy"},
{"calculate":"datum.level=='grp' ? datum.gy+3 : (datum.level=='sub' ? datum.gy+datum.oy+1.5 : datum.gy+datum.oy+indexof(['RAW','LOG','LOG.RC'], datum.tf)+0.5)","as":"yc"},
{"calculate":"datum.level=='leaf' ? 'j2' : (datum.level=='sub' ? 'j1' : 'root')","as":"hx1"},
{"calculate":"datum.level=='leaf' ? 'leaf' : (datum.level=='sub' ? 'j2' : 'j1')","as":"hx2"},
{"calculate":"datum.level=='sub' ? 'j2' : 'j1'","as":"vx"},
{"calculate":"datum.level=='sub' ? datum.yc-1 : datum.yc-1.5","as":"vy1"},
{"calculate":"datum.level=='sub' ? datum.yc+1 : datum.yc+1.5","as":"vy2"},
{"calculate":"datum.level=='grp' ? datum.grp : (datum.level=='sub' ? datum.ord : datum.tf)","as":"label"}
],
"layer":[
{"mark":{"type":"rule","stroke":"#333333","strokeWidth":1.5},
"encoding":{"x":{"field":"hx1","type":"nominal","scale":{"type":"point","domain":["root","grp","j1","sub","j2","leaf"],"range":[2,134.5],"padding":0},"axis":null},"x2":{"field":"hx2"},
"y":{"field":"yc","type":"quantitative","scale":{"domain":[0,19.2],"reverse":true,"nice":false,"zero":false},"axis":null}}},
{"transform":[{"filter":"datum.level!='leaf'"}],"mark":{"type":"rule","stroke":"#333333","strokeWidth":1.5},
"encoding":{"x":{"field":"vx","type":"nominal","scale":{"type":"point","domain":["root","grp","j1","sub","j2","leaf"],"range":[2,134.5],"padding":0},"axis":null},
"y":{"field":"vy1","type":"quantitative","scale":{"domain":[0,19.2],"reverse":true,"nice":false,"zero":false},"axis":null},"y2":{"field":"vy2"}}},
{"transform":[{"filter":"datum.level=='grp'"}],"mark":{"type":"rule","stroke":"#333333","strokeWidth":1.5},
"encoding":{"x":{"datum":"root","type":"nominal","scale":{"type":"point","domain":["root","grp","j1","sub","j2","leaf"],"range":[2,134.5],"padding":0},"axis":null},
"y":{"field":"yc","type":"quantitative","scale":{"domain":[0,19.2],"reverse":true,"nice":false,"zero":false},"axis":null},"y2":{"datum":9.6}}},
{"transform":[{"filter":"datum.level=='grp'"}],"mark":{"type":"rect","width":34,"height":15,"fill":"white","stroke":"#333333","strokeWidth":1.5},
"encoding":{"x":{"field":"level","type":"nominal","scale":{"type":"point","domain":["root","grp","j1","sub","j2","leaf"],"range":[2,134.5],"padding":0},"axis":null},
"y":{"field":"yc","type":"quantitative","scale":{"domain":[0,19.2],"reverse":true,"nice":false,"zero":false},"axis":null}}},
{"transform":[{"filter":"datum.level=='sub'"}],"mark":{"type":"rect","width":45,"height":15,"fill":"white","stroke":"#333333","strokeWidth":1.5},
"encoding":{"x":{"field":"level","type":"nominal","scale":{"type":"point","domain":["root","grp","j1","sub","j2","leaf"],"range":[2,134.5],"padding":0},"axis":null},
"y":{"field":"yc","type":"quantitative","scale":{"domain":[0,19.2],"reverse":true,"nice":false,"zero":false},"axis":null}}},
{"transform":[{"filter":"datum.level=='leaf'"}],"mark":{"type":"rect","width":33,"height":15,"fill":"white","stroke":"#333333","strokeWidth":1.5},
"encoding":{"x":{"field":"level","type":"nominal","scale":{"type":"point","domain":["root","grp","j1","sub","j2","leaf"],"range":[2,134.5],"padding":0},"axis":null},
"y":{"field":"yc","type":"quantitative","scale":{"domain":[0,19.2],"reverse":true,"nice":false,"zero":false},"axis":null}}},
{"mark":{"type":"text","fontSize":8,"fontWeight":"bold","font":"Liberation Sans Narrow, Liberation Sans","color":"#222222"},
"encoding":{"x":{"field":"level","type":"nominal","scale":{"type":"point","domain":["root","grp","j1","sub","j2","leaf"],"range":[2,134.5],"padding":0},"axis":null},
"y":{"field":"yc","type":"quantitative","scale":{"domain":[0,19.2],"reverse":true,"nice":false,"zero":false},"axis":null},"text":{"field":"label"}}}
]},
{"width":430,"height":375,"data":{"name":"heatA"},
"transform":[
{"calculate":"indexof(['CS+/CS-','CS+','CS-'], datum.grp)*6.6 + (datum.ord=='ordinal' ? 3 : 0) + indexof(['RAW','LOG','LOG.RC'], datum.tf)","as":"y0"},
{"calculate":"datum.y0+1","as":"y1"},
{"calculate":"datum.y0+0.5","as":"yc"},
{"calculate":"''+datum.beta","as":"lbl"}
],
"layer":[
{"mark":{"type":"rect","stroke":"#3c3c3c","strokeWidth":0.8},
"encoding":{"x":{"field":"col","type":"ordinal","scale":{"type":"band","domain":[1,2,3,4,5,6,7,8,9,10,11],"paddingInner":0,"paddingOuter":0},"axis":null},
"y":{"field":"y0","type":"quantitative","scale":{"domain":[0,19.2],"reverse":true,"nice":false,"zero":false},"axis":null},"y2":{"field":"y1"},
"color":{"condition":{"test":"datum.sig==0","value":"#ffffff"},"field":"beta","type":"quantitative",
"scale":{"type":"linear","domain":[-1,-0.7,-0.5,-0.25,0,0.1,0.18,0.21,0.24,0.27,0.3,0.33,0.37,0.45,0.55,0.65,0.8,1],"range":["#0000ff","#0000ff","#1e90ff","#87cefa","#ffffff","#ffffa8","#ffff00","#ffe000","#ffbb00","#ff9500","#ff6e00","#ff3300","#ff0000","#d40000","#b00000","#990000","#8b0000","#8b1a1a"],"interpolate":"rgb"},
"legend":{"orient":"none","legendX":464,"legendY":1,"direction":"vertical","gradientLength":376,"gradientThickness":16,"gradientStrokeWidth":0,"values":[-1,-0.75,-0.5,-0.25,0,0.25,0.5,0.75,1],"labelExpr":"datum.value == 0 ? '0' : (datum.value < 0 ? '- ' : '') + (abs(datum.value) == 1 ? '1.0' : '' + abs(datum.value))","labelFont":"Open Sans","labelFontSize":11,"labelFontWeight":"bold","labelColor":"#333333","labelOffset":10,"labelBaseline":"middle","labelOverlap":false,"title":"standardized Beta","titleOrient":"right","titleAnchor":"middle","titleBaseline":"middle","titleFont":"Liberation Sans","titleFontSize":10,"titleFontWeight":"bold","titleColor":"#333333","titlePadding":9,"encode":{"title":{"update":{"angle":{"value":0},"align":{"value":"left"}}}}}}}},
{"transform":[{"filter":"datum.sig==1"}],"mark":{"type":"text","font":"Liberation Sans","fontSize":10,"fontWeight":"bold","fill":"#111111"},
"encoding":{"x":{"field":"col","type":"ordinal","scale":{"type":"band","domain":[1,2,3,4,5,6,7,8,9,10,11],"paddingInner":0,"paddingOuter":0},"axis":null},
"y":{"field":"yc","type":"quantitative","scale":{"domain":[0,19.2],"reverse":true,"nice":false,"zero":false},"axis":null},"text":{"field":"lbl"}}},
{"transform":[{"filter":"datum.sig==0"}],"mark":{"type":"text","font":"Liberation Sans","fontSize":10,"fill":"#a8a8a8"},
"encoding":{"x":{"field":"col","type":"ordinal","scale":{"type":"band","domain":[1,2,3,4,5,6,7,8,9,10,11],"paddingInner":0,"paddingOuter":0},"axis":null},
"y":{"field":"yc","type":"quantitative","scale":{"domain":[0,19.2],"reverse":true,"nice":false,"zero":false},"axis":null},"text":{"field":"lbl"}}},
{"data":{"values":[{"grp":"CS+/CS-"},{"grp":"CS+"},{"grp":"CS-"}]},
"transform":[{"calculate":"indexof(['CS+/CS-','CS+','CS-'], datum.grp)*6.6","as":"f0"},{"calculate":"datum.f0+6","as":"f1"}],
"mark":{"type":"rect","fillOpacity":0,"stroke":"#3a3a3a","strokeWidth":2},
"encoding":{"y":{"field":"f0","type":"quantitative","scale":{"domain":[0,19.2],"reverse":true,"nice":false,"zero":false},"axis":null},"y2":{"field":"f1"}}}
]}
],"spacing":0,"resolve":{"scale":{"color":"independent","fill":"independent"},"legend":{"color":"independent","fill":"independent"}}}
]
},
{
"spacing":12,
"resolve":{"scale":{"color":"independent","fill":"independent"},"legend":{"color":"independent","fill":"independent"}},
"vconcat":[
{"hconcat":[
{"width":152,"height":115,"data":{"name":"rowsHead"},
"resolve":{"scale":{"x":"independent"}},
"layer":[
{"data":{"values":[{"panel":"B"}]},
"mark":{"type":"text","fontSize":21,"fontWeight":"bold","font":"Liberation Sans","color":"#000000","align":"left","baseline":"middle"},
"encoding":{"x":{"datum":"B","type":"nominal","scale":{"type":"point","domain":["B"],"range":[5,5],"padding":0},"axis":null},
"y":{"datum":"Column #","type":"nominal","bandPosition":0.2,"scale":{"type":"band","domain":["Column #","Predictor","Criterion"],"paddingInner":0,"paddingOuter":0},"axis":null},
"text":{"field":"panel"}}},
{"mark":{"type":"point","shape":"M-0.28,-1L0.28,0L-0.28,1","size":1089,"filled":true,"fill":"white","stroke":"#5a5a5a","strokeWidth":1.5,"opacity":1},
"encoding":{"x":{"datum":"tip","type":"nominal","scale":{"type":"point","domain":["box","tip"],"range":[97.5,144.5],"padding":0},"axis":null},
"y":{"field":"row","type":"nominal","scale":{"type":"band","domain":["Column #","Predictor","Criterion"],"paddingInner":0,"paddingOuter":0},"axis":null}}},
{"mark":{"type":"rect","width":85,"height":33,"fill":"white","stroke":"#5a5a5a","strokeWidth":1.5},
"encoding":{"x":{"datum":"box","type":"nominal","scale":{"type":"point","domain":["box","tip"],"range":[97.5,144.5],"padding":0},"axis":null},
"y":{"field":"row","type":"nominal","scale":{"type":"band","domain":["Column #","Predictor","Criterion"],"paddingInner":0,"paddingOuter":0},"axis":null}}},
{"mark":{"type":"text","fontSize":15,"font":"Open Sans","color":"#3a3a3a"},
"encoding":{"x":{"datum":"box","type":"nominal","scale":{"type":"point","domain":["box","tip"],"range":[97.5,144.5],"padding":0},"axis":null},
"y":{"field":"row","type":"nominal","scale":{"type":"band","domain":["Column #","Predictor","Criterion"],"paddingInner":0,"paddingOuter":0},"axis":null},
"text":{"field":"row"}}}
]},
{"width":457,"height":115,"data":{"name":"headB"},
"layer":[
{"transform":[{"filter":"datum.row=='Predictor'"}],
"mark":{"type":"rule","stroke":"#4a4a4a","strokeWidth":1.5},
"encoding":{"x":{"field":"col","type":"ordinal","scale":{"type":"band","domain":[1,2,3,4,5,6,7,8,9,10,11],"paddingInner":0,"paddingOuter":0},"axis":null},
"y":{"datum":"Predictor","type":"nominal","scale":{"type":"band","domain":["Column #","Predictor","Criterion"],"paddingInner":0,"paddingOuter":0},"axis":null},
"y2":{"datum":"Criterion"}}},
{"transform":[{"filter":"datum.row=='Predictor'"}],
"mark":{"type":"point","shape":"circle","size":755,"filled":true,"fill":"white","stroke":"#5a5a5a","strokeWidth":1.5,"opacity":1},
"encoding":{"x":{"field":"col","type":"ordinal","scale":{"type":"band","domain":[1,2,3,4,5,6,7,8,9,10,11],"paddingInner":0,"paddingOuter":0},"axis":null},
"y":{"datum":"Column #","type":"nominal","scale":{"type":"band","domain":["Column #","Predictor","Criterion"],"paddingInner":0,"paddingOuter":0},"axis":null}}},
{"transform":[{"filter":"datum.row=='Predictor'"}],
"mark":{"type":"text","fontSize":16,"font":"Open Sans","color":"#333333"},
"encoding":{"x":{"field":"col","type":"ordinal","scale":{"type":"band","domain":[1,2,3,4,5,6,7,8,9,10,11],"paddingInner":0,"paddingOuter":0},"axis":null},
"y":{"datum":"Column #","type":"nominal","scale":{"type":"band","domain":["Column #","Predictor","Criterion"],"paddingInner":0,"paddingOuter":0},"axis":null},
"text":{"field":"col"}}},
{"mark":{"type":"rect","width":37,"height":32,"stroke":"#4a4a4a","strokeWidth":1.5},
"encoding":{"x":{"field":"col","type":"ordinal","scale":{"type":"band","domain":[1,2,3,4,5,6,7,8,9,10,11],"paddingInner":0,"paddingOuter":0},"axis":null},
"y":{"field":"row","type":"nominal","scale":{"type":"band","domain":["Column #","Predictor","Criterion"],"paddingInner":0,"paddingOuter":0},"axis":null},
"fill":{"field":"phase","type":"nominal","scale":{"domain":["Acquisition","Fear Recall","Extinction","RI-Test"],"range":["#ffffff","#e3e3e3","#c2c2c2","#a2a2a2"]},
"legend":{"orient":"none","legendX":470,"legendY":6,"title":null,"direction":"vertical","symbolType":"square","symbolSize":256,"symbolStrokeColor":"#333333","symbolStrokeWidth":1.5,"symbolOpacity":1,"rowPadding":8,"labelOffset":12,"labelFont":"Open Sans","labelFontSize":11,"labelFontWeight":"bold","labelColor":"#333333"}}}},
{"transform":[{"filter":"length(split(datum.label,'\\n'))==3"}],
"mark":{"type":"text","fontSize":7,"fontWeight":"bold","font":"Liberation Sans Narrow, Liberation Sans","lineBreak":"\n","lineHeight":8,"dy":-8.5},
"encoding":{"x":{"field":"col","type":"ordinal","scale":{"type":"band","domain":[1,2,3,4,5,6,7,8,9,10,11],"paddingInner":0,"paddingOuter":0},"axis":null},
"y":{"field":"row","type":"nominal","scale":{"type":"band","domain":["Column #","Predictor","Criterion"],"paddingInner":0,"paddingOuter":0},"axis":null},
"text":{"field":"label"},
"color":{"field":"phase","type":"nominal","scale":{"domain":["Acquisition","Fear Recall","Extinction","RI-Test"],"range":["#1c1c1c","#8c8c8c","#f2f2f2","#1c1c1c"]},"legend":null}}},
{"transform":[{"filter":"length(split(datum.label,'\\n'))==2"}],
"mark":{"type":"text","fontSize":7,"fontWeight":"bold","font":"Liberation Sans Narrow, Liberation Sans","lineBreak":"\n","lineHeight":8,"dy":-4.5},
"encoding":{"x":{"field":"col","type":"ordinal","scale":{"type":"band","domain":[1,2,3,4,5,6,7,8,9,10,11],"paddingInner":0,"paddingOuter":0},"axis":null},
"y":{"field":"row","type":"nominal","scale":{"type":"band","domain":["Column #","Predictor","Criterion"],"paddingInner":0,"paddingOuter":0},"axis":null},
"text":{"field":"label"},
"color":{"field":"phase","type":"nominal","scale":{"domain":["Acquisition","Fear Recall","Extinction","RI-Test"],"range":["#1c1c1c","#8c8c8c","#f2f2f2","#1c1c1c"]},"legend":null}}}
]}
],"spacing":0,"resolve":{"scale":{"color":"independent","fill":"independent"},"legend":{"color":"independent","fill":"independent"}}},
{"hconcat":[
{"width":152,"height":147,"data":{"name":"treeB"},
"transform":[
{"calculate":"indexof(['CS+/CS-','CS+','CS-'], datum.grp)*2.5","as":"gy"},
{"calculate":"datum.level=='grp' ? datum.gy+1 : datum.gy+(datum.ord=='ordinal' ? 1 : 0)+0.5","as":"yc"},
{"calculate":"datum.level=='sub' ? 'j1' : 'root'","as":"hx1"},
{"calculate":"datum.level=='sub' ? 'sub' : 'j1'","as":"hx2"},
{"calculate":"datum.level=='grp' ? datum.grp : datum.ord","as":"label"}
],
"layer":[
{"mark":{"type":"rule","stroke":"#333333","strokeWidth":1.5},
"encoding":{"x":{"field":"hx1","type":"nominal","scale":{"type":"point","domain":["root","grp","j1","sub"],"range":[31,114.5],"padding":0},"axis":null},"x2":{"field":"hx2"},
"y":{"field":"yc","type":"quantitative","scale":{"domain":[0,7],"reverse":true,"nice":false,"zero":false},"axis":null}}},
{"transform":[{"filter":"datum.level=='grp'"},{"calculate":"datum.yc-0.5","as":"vy1"},{"calculate":"datum.yc+0.5","as":"vy2"}],"mark":{"type":"rule","stroke":"#333333","strokeWidth":1.5},
"encoding":{"x":{"datum":"j1","type":"nominal","scale":{"type":"point","domain":["root","grp","j1","sub"],"range":[31,114.5],"padding":0},"axis":null},
"y":{"field":"vy1","type":"quantitative","scale":{"domain":[0,7],"reverse":true,"nice":false,"zero":false},"axis":null},"y2":{"field":"vy2"}}},
{"transform":[{"filter":"datum.level=='grp'"}],"mark":{"type":"rule","stroke":"#333333","strokeWidth":1.5},
"encoding":{"x":{"datum":"root","type":"nominal","scale":{"type":"point","domain":["root","grp","j1","sub"],"range":[31,114.5],"padding":0},"axis":null},
"y":{"field":"yc","type":"quantitative","scale":{"domain":[0,7],"reverse":true,"nice":false,"zero":false},"axis":null},"y2":{"datum":3.5}}},
{"transform":[{"filter":"datum.level=='grp'"}],"mark":{"type":"rect","width":36,"height":15,"fill":"white","stroke":"#333333","strokeWidth":1.5},
"encoding":{"x":{"field":"level","type":"nominal","scale":{"type":"point","domain":["root","grp","j1","sub"],"range":[31,114.5],"padding":0},"axis":null},
"y":{"field":"yc","type":"quantitative","scale":{"domain":[0,7],"reverse":true,"nice":false,"zero":false},"axis":null}}},
{"transform":[{"filter":"datum.level=='sub'"}],"mark":{"type":"rect","width":47,"height":16,"fill":"white","stroke":"#333333","strokeWidth":1.5},
"encoding":{"x":{"field":"level","type":"nominal","scale":{"type":"point","domain":["root","grp","j1","sub"],"range":[31,114.5],"padding":0},"axis":null},
"y":{"field":"yc","type":"quantitative","scale":{"domain":[0,7],"reverse":true,"nice":false,"zero":false},"axis":null}}},
{"mark":{"type":"text","fontSize":8.5,"fontWeight":"bold","font":"Liberation Sans Narrow, Liberation Sans","color":"#222222"},
"encoding":{"x":{"field":"level","type":"nominal","scale":{"type":"point","domain":["root","grp","j1","sub"],"range":[31,114.5],"padding":0},"axis":null},
"y":{"field":"yc","type":"quantitative","scale":{"domain":[0,7],"reverse":true,"nice":false,"zero":false},"axis":null},"text":{"field":"label"}}}
]},
{"width":457,"height":147,"data":{"name":"heatB"},
"transform":[
{"calculate":"indexof(['CS+/CS-','CS+','CS-'], datum.grp)*2.5 + (datum.ord=='ordinal' ? 1 : 0)","as":"y0"},
{"calculate":"datum.y0+1","as":"y1"},
{"calculate":"datum.y0+0.5","as":"yc"},
{"calculate":"''+datum.beta","as":"lbl"}
],
"layer":[
{"mark":{"type":"rect","stroke":"#3c3c3c","strokeWidth":0.8},
"encoding":{"x":{"field":"col","type":"ordinal","scale":{"type":"band","domain":[1,2,3,4,5,6,7,8,9,10,11],"paddingInner":0,"paddingOuter":0},"axis":null},
"y":{"field":"y0","type":"quantitative","scale":{"domain":[0,7],"reverse":true,"nice":false,"zero":false},"axis":null},"y2":{"field":"y1"},
"color":{"condition":{"test":"datum.sig==0","value":"#ffffff"},"field":"beta","type":"quantitative",
"scale":{"type":"linear","domain":[-1,-0.7,-0.5,-0.25,0,0.1,0.18,0.21,0.24,0.27,0.3,0.33,0.37,0.45,0.55,0.65,0.8,1],"range":["#0000ff","#0000ff","#1e90ff","#87cefa","#ffffff","#ffffa8","#ffff00","#ffe000","#ffbb00","#ff9500","#ff6e00","#ff3300","#ff0000","#d40000","#b00000","#990000","#8b0000","#8b1a1a"],"interpolate":"rgb"},
"legend":{"orient":"none","legendX":-8,"legendY":160,"direction":"horizontal","gradientLength":433,"gradientThickness":18,"gradientStrokeWidth":0,"values":[-1,-0.75,-0.5,-0.25,0,0.25,0.5,0.75,1],"labelExpr":"datum.value == 0 ? '0' : (datum.value < 0 ? '- ' : '') + (abs(datum.value) == 1 ? '1.0' : '' + abs(datum.value))","labelFont":"Open Sans","labelFontSize":11,"labelFontWeight":"bold","labelColor":"#333333","labelOffset":14,"labelAlign":"center","labelOverlap":false,"title":"standardized Beta","titleOrient":"bottom","titleAnchor":"middle","titleFont":"Open Sans","titleFontSize":11,"titleFontWeight":"bold","titleColor":"#333333","titlePadding":5}}}},
{"transform":[{"filter":"datum.sig==1"}],"mark":{"type":"text","font":"Liberation Sans","fontSize":10,"fontWeight":"bold","fill":"#111111"},
"encoding":{"x":{"field":"col","type":"ordinal","scale":{"type":"band","domain":[1,2,3,4,5,6,7,8,9,10,11],"paddingInner":0,"paddingOuter":0},"axis":null},
"y":{"field":"yc","type":"quantitative","scale":{"domain":[0,7],"reverse":true,"nice":false,"zero":false},"axis":null},"text":{"field":"lbl"}}},
{"transform":[{"filter":"datum.sig==0"}],"mark":{"type":"text","font":"Liberation Sans","fontSize":10,"fill":"#a8a8a8"},
"encoding":{"x":{"field":"col","type":"ordinal","scale":{"type":"band","domain":[1,2,3,4,5,6,7,8,9,10,11],"paddingInner":0,"paddingOuter":0},"axis":null},
"y":{"field":"yc","type":"quantitative","scale":{"domain":[0,7],"reverse":true,"nice":false,"zero":false},"axis":null},"text":{"field":"lbl"}}},
{"data":{"values":[{"grp":"CS+/CS-"},{"grp":"CS+"},{"grp":"CS-"}]},
"transform":[{"calculate":"indexof(['CS+/CS-','CS+','CS-'], datum.grp)*2.5","as":"f0"},{"calculate":"datum.f0+2","as":"f1"}],
"mark":{"type":"rect","fillOpacity":0,"stroke":"#3a3a3a","strokeWidth":2},
"encoding":{"y":{"field":"f0","type":"quantitative","scale":{"domain":[0,7],"reverse":true,"nice":false,"zero":false},"axis":null},"y2":{"field":"f1"}}}
]}
],"spacing":0,"resolve":{"scale":{"color":"independent","fill":"independent"},"legend":{"color":"independent","fill":"independent"}}}
]
}
]
}
